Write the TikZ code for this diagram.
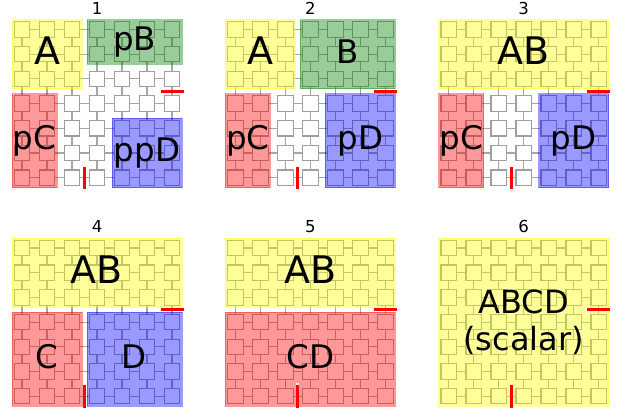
\documentclass[tikz,border=0pt]{standalone}
\usepackage{fontspec}
\setmainfont{DejaVu Sans}

\definecolor{tnyellow}{rgb}{1,1,0}
\definecolor{tngreen}{rgb}{0,0.5,0}
\definecolor{tnred}{rgb}{1,0,0}
\definecolor{tnblue}{rgb}{0,0,1}

\tikzset{
  bond/.style={draw=gray!70, line width=1.1pt},
  site/.style={draw=gray!75, fill=white, line width=1.1pt},
  blk/.style={fill=#1, draw=#1, opacity=0.4, line width=0.6pt},
  blocktext/.style={font=\fontsize{32.5}{36}\selectfont, text height=24.7pt, text depth=6.8pt, inner sep=0pt},
  bigtext/.style={font=\fontsize{38}{42}\selectfont, text height=28.9pt, text depth=7.9pt, inner sep=0pt},
  paneltitle/.style={font=\fontsize{16.5}{18}\selectfont, inner sep=0pt},
  cut/.style={draw=red, line width=3.3pt},
  cuthalo/.style={draw=white, line width=3.3pt},
  panel/.style={x=25pt, y=-24.7pt}
}

% 7x7 network: bonds first, then the sites on top
\newcommand{\tngrid}{%
  \foreach \k in {0,...,6} {
    \draw[bond] (0,\k) -- (6,\k);
    \draw[bond] (\k,0) -- (\k,6);
  }
  \foreach \i in {0,...,6}
    \foreach \j in {0,...,6}
      \draw[site] (\i-0.31,\j-0.31) rectangle (\i+0.31,\j+0.31);
}

% the two cut bonds
\newcommand{\tncuts}{%
  \draw[cuthalo] (2.5,5.46) -- (2.5,6.46);
  \draw[cut] (2.5,5.56) -- (2.5,6.46);
  \draw[cuthalo] (5.44,2.5) -- (6.46,2.5);
  \draw[cut] (5.54,2.5) -- (6.46,2.5);
}

\begin{document}
\begin{tikzpicture}[x=1pt,y=-1pt]
\useasboundingbox (0,0) rectangle (618,410);

% step 1
\begin{scope}[shift={(22,29.5)}, panel]
\tngrid
\fill[blk=tnyellow] (-0.4,-0.4) rectangle (2.4,2.4);
\fill[blk=tngreen] (2.6,-0.4) rectangle (6.4,1.4);
\fill[blk=tnred] (-0.4,2.6) rectangle (1.4,6.4);
\fill[blk=tnblue] (3.6,3.6) rectangle (6.4,6.4);
\tncuts
\node[paneltitle] (t1) at (3,-0.87) {1};
\node[bigtext] (a1) at (1,1) {A};
\node[blocktext] (b1) at (4.5,0.5) {pB};
\node[blocktext] (c1) at (0.5,4.5) {pC};
\node[blocktext] (d1) at (5,5) {ppD};
\end{scope}

% step 2
\begin{scope}[shift={(235.3,29.5)}, panel]
\tngrid
\fill[blk=tnyellow] (-0.4,-0.4) rectangle (2.4,2.4);
\fill[blk=tngreen] (2.6,-0.4) rectangle (6.4,2.4);
\fill[blk=tnred] (-0.4,2.6) rectangle (1.4,6.4);
\fill[blk=tnblue] (3.6,2.6) rectangle (6.4,6.4);
\tncuts
\node[paneltitle] (t2) at (3,-0.87) {2};
\node[bigtext] (a2) at (1,1) {A};
\node[blocktext] (b2) at (4.5,1) {B};
\node[blocktext] (c2) at (0.5,4.5) {pC};
\node[blocktext] (d2) at (5,4.5) {pD};
\end{scope}

% step 3
\begin{scope}[shift={(448.7,29.5)}, panel]
\tngrid
\fill[blk=tnyellow] (-0.4,-0.4) rectangle (6.4,2.4);
\fill[blk=tnred] (-0.4,2.6) rectangle (1.4,6.4);
\fill[blk=tnblue] (3.6,2.6) rectangle (6.4,6.4);
\tncuts
\node[paneltitle] (t3) at (3,-0.87) {3};
\node[bigtext] (ab3) at (3,1) {AB};
\node[blocktext] (c3) at (0.5,4.5) {pC};
\node[blocktext] (d3) at (5,4.5) {pD};
\end{scope}

% step 4
\begin{scope}[shift={(22,248)}, panel]
\tngrid
\fill[blk=tnyellow] (-0.4,-0.4) rectangle (6.4,2.4);
\fill[blk=tnred] (-0.4,2.6) rectangle (2.4,6.4);
\fill[blk=tnblue] (2.6,2.6) rectangle (6.4,6.4);
\tncuts
\node[paneltitle] (t4) at (3,-0.87) {4};
\node[bigtext] (ab4) at (3,1) {AB};
\node[blocktext] (c4) at (1,4.5) {C};
\node[blocktext] (d4) at (4.5,4.5) {D};
\end{scope}

% step 5
\begin{scope}[shift={(235.3,248)}, panel]
\tngrid
\fill[blk=tnyellow] (-0.4,-0.4) rectangle (6.4,2.4);
\fill[blk=tnred] (-0.4,2.6) rectangle (6.4,6.4);
\tncuts
\node[paneltitle] (t5) at (3,-0.87) {5};
\node[bigtext] (ab5) at (3,1) {AB};
\node[blocktext] (cd5) at (3,4.5) {CD};
\end{scope}

% step 6
\begin{scope}[shift={(448.7,248)}, panel]
\tngrid
\fill[blk=tnyellow] (-0.4,-0.4) rectangle (6.4,6.4);
\tncuts
\node[paneltitle] (t6) at (3,-0.87) {6};
\node[font=\fontsize{32}{37}\selectfont, align=center, inner sep=0pt] (abcd6) at (3,3) {ABCD\\(scalar)};
\end{scope}
\end{tikzpicture}
\end{document}
